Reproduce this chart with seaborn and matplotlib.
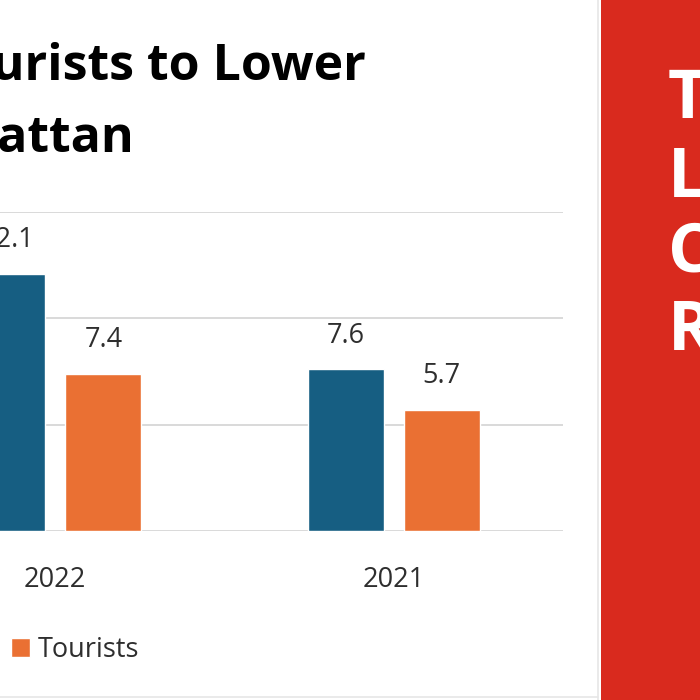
import pandas as pd
import matplotlib.pyplot as plt
import seaborn as sns
from matplotlib.patches import Rectangle, Patch
from matplotlib.lines import Line2D

# ================= Data =================
years = ["2022", "2021"]
series = ["Visitors", "Tourists"]
visitors = [12.1, 7.6]
tourists = [7.4, 5.7]
side_letters = ["T", "L", "C", "R"]

df = pd.DataFrame({
    "year": years * 2,
    "series": ["Visitors"] * len(years) + ["Tourists"] * len(years),
    "value": visitors + tourists,
})

BLUE = "#165E82"
ORANGE = "#EA7033"
RED = "#D92A1E"
GRID = "#D9D9D9"
TEXT = "#2E2E2E"

sns.set_theme(style="white")
plt.rcParams["font.family"] = ["Open Sans", "DejaVu Sans"]

W, H = 700, 700
fig = plt.figure(figsize=(7, 7), dpi=100)
fig.patch.set_facecolor("white")

# axes placed in pixel terms (the chart is cropped on the left)
ax_left, ax_right, ax_top, ax_bottom = -114, 563, 212, 531
ax = fig.add_axes([ax_left / W, 1 - ax_bottom / H,
                   (ax_right - ax_left) / W, (ax_bottom - ax_top) / H])

sns.barplot(data=df, x="year", y="value", hue="series", palette=[BLUE, ORANGE],
            saturation=1, width=0.568, gap=0.21, ax=ax, legend=False, zorder=3)

for cont in ax.containers:
    ax.bar_label(cont, fmt="%.1f", padding=14, fontsize=19.5, color=TEXT)

ax.set_ylim(0, 15)
ax.set_xlim(-0.5, len(years) - 0.5)
ax.set_yticks([0, 5, 10, 15])
ax.yaxis.grid(True, color=GRID, linewidth=1.4, zorder=0)
ax.set_yticklabels([])
ax.tick_params(axis="y", length=0)
ax.tick_params(axis="x", length=0, pad=25, labelsize=19.5, labelcolor=TEXT)
ax.set_xlabel("")
ax.set_ylabel("")
for s in ax.spines.values():
    s.set_visible(False)
ax.set_facecolor("none")

# ================= Title (cropped) =================
fig.text(366 / W, 1 - 80 / H, "Visitors and Tourists to Lower", ha="right",
         va="baseline", fontsize=36, fontweight="bold", color="black")
fig.text(134 / W, 1 - 152 / H, "Manhattan", ha="right",
         va="baseline", fontsize=36, fontweight="bold", color="black")

# ================= Legend =================
handles = [Patch(facecolor=BLUE), Patch(facecolor=ORANGE)]
leg = ax.legend(handles, series, ncol=2, frameon=False, loc="center left",
                bbox_to_anchor=(0, 50 / H), bbox_transform=fig.transFigure,
                fontsize=19.5, handlelength=0.68, handleheight=0.68,
                handletextpad=0.3, columnspacing=1.2, labelcolor=TEXT)
fig.canvas.draw()
bb = leg.get_texts()[1].get_window_extent()
leg.set_bbox_to_anchor(((38 - bb.x0) / W, 50 / H), transform=fig.transFigure)

# ================= Border and red side panel =================
fig.add_artist(Line2D([598 / W, 598 / W], [0, 1], color="#E6E6E6", lw=1.2))
fig.add_artist(Line2D([0, 598 / W], [3 / H, 3 / H], color="#E6E6E6", lw=1.2))
fig.add_artist(Rectangle((601 / W, 0), 99 / W, 1, facecolor=RED,
                         edgecolor="none", transform=fig.transFigure))

baselines = [118, 197, 271, 350]
for letter, yb in zip(side_letters, baselines):
    fig.text(668 / W, 1 - yb / H, letter, ha="left", va="baseline",
             fontsize=49, fontweight="bold", color="white")

fig.savefig("out.png", dpi=100)
